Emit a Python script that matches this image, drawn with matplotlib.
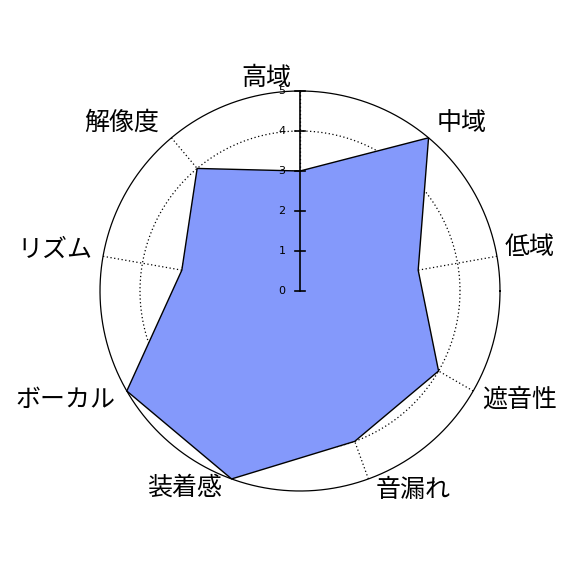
import numpy as np
import matplotlib.pyplot as plt

plt.rcParams['font.family'] = ['Noto Sans CJK JP', 'DejaVu Sans']

labels = ['高域', '中域', '低域', '遮音性', '音漏れ', '装着感', 'ボーカル', 'リズム', '解像度']
values = [3, 5, 3, 4, 4, 5, 5, 3, 4]
ticks = [0, 1, 2, 3, 4, 5]
vmax = 5

# label centres (pixel offsets from chart centre, y up)
label_dx = [-34, 162, 230, 220, 113, -115, -235, -245, -178]
label_dy = [213, 168, 44, -109, -199, -197, -109, 41, 168]

W = 575
cx, cy, R = 300, 291, 200  # centre and radius in pixels

fig = plt.figure(figsize=(5.75, 5.75), dpi=100)
ax = fig.add_axes([0, 0, 1, 1])
ax.set_xlim(-cx / R, (W - cx) / R)
ax.set_ylim(-(W - cy) / R, cy / R)
ax.axis('off')

n = len(labels)
ang = np.pi / 2 - 2 * np.pi * np.arange(n) / n

# grid circles
t = np.linspace(0, 2 * np.pi, 400)
for v in ticks[1:]:
    r = v / vmax
    ls = '-' if v == vmax else (0, (1, 2))
    ax.plot(r * np.cos(t), r * np.sin(t), color='black', lw=0.9, ls=ls, zorder=1)

# radial lines
for a in ang:
    ax.plot([0, np.cos(a)], [0, np.sin(a)], color='black', lw=0.9, ls=(0, (1, 2)), zorder=1)

# data polygon
rv = np.array(values) / vmax
px = rv * np.cos(ang)
py = rv * np.sin(ang)
ax.fill(px, py, facecolor='#8499fb', edgecolor='black', lw=1.0, zorder=2)

# vertical axis with ticks
ax.plot([0, 0], [0, 1], color='black', lw=1.2, zorder=3)
for v in ticks:
    y = v / vmax
    ax.plot([-0.025, 0.025], [y, y], color='black', lw=1.2, zorder=3)
    ax.text(-0.09, y, str(v), fontsize=8, ha='center', va='center', zorder=3,
            family='DejaVu Sans')

# category labels
for lab, dx, dy in zip(labels, label_dx, label_dy):
    ax.text(dx / R, dy / R, lab, fontsize=18, ha='center', va='center', zorder=4)

fig.savefig('out.png', dpi=100)
